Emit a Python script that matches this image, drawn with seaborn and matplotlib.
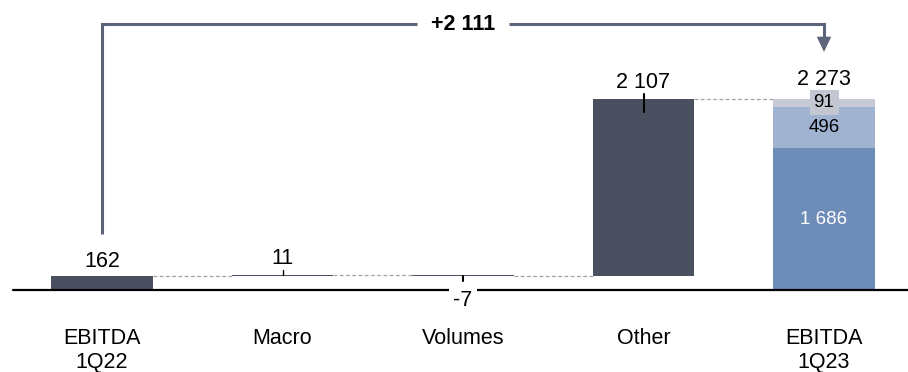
import numpy as np
import pandas as pd
import matplotlib
matplotlib.use("Agg")
import matplotlib.pyplot as plt
import seaborn as sns
from matplotlib import font_manager

# ---- data -------------------------------------------------------------
categories = ["EBITDA\n1Q22", "Macro", "Volumes", "Other", "EBITDA\n1Q23"]
start_value = 162                 # EBITDA 1Q22
step_deltas = [11, -7, 2107]      # Macro, Volumes, Other
end_parts = [1686, 496, 91]       # EBITDA 1Q23 components, bottom to top
end_total = 2273
change_text = "+2 111"

# ---- style ------------------------------------------------------------
sns.set_theme(style="white")
installed = {f.name for f in font_manager.fontManager.ttflist}
families = [f for f in ["Liberation Sans Narrow", "Liberation Sans", "DejaVu Sans"] if f in installed]
plt.rcParams["font.family"] = families
plt.rcParams["text.color"] = "black"

DARK = "#4a5060"
LINE = "#5b6478"
C_BASE = "#6e8cb8"
C_MID = "#9fb2d0"
C_TOP = "#c6cad5"
DASH = "#a3a3a3"
BAR_W = 0.56
FS = 15.5
FS_IN = 13.5

fig = plt.figure(figsize=(9.08, 3.72), dpi=100)
ax = fig.add_axes([0, 0, 1, 1])

PX = end_total / 191.0            # data units per pixel (vertical)
XPX = 1 / 180.5                   # data units per pixel (horizontal)


def fmt(v):
    return f"{v:,}".replace(",", " ")


# running totals for the waterfall
running = [start_value]
for d in step_deltas:
    running.append(running[-1] + d)

# opening total bar
opening = pd.DataFrame({"cat": [categories[0]], "value": [start_value]})
sns.barplot(data=opening, x="cat", y="value", order=categories, color=DARK,
            width=BAR_W, saturation=1, linewidth=0, ax=ax)

# closing stacked bar, drawn as overlapping cumulative layers
cum = np.cumsum(end_parts)
for level, col in zip(cum[::-1], [C_TOP, C_MID, C_BASE]):
    layer = pd.DataFrame({"cat": [categories[-1]], "value": [level]})
    sns.barplot(data=layer, x="cat", y="value", order=categories, color=col,
                width=BAR_W, saturation=1, linewidth=0, ax=ax)

# floating step bars
for i, d in enumerate(step_deltas, start=1):
    lo = min(running[i - 1], running[i])
    ax.bar(i, abs(d), bottom=lo, width=BAR_W, color=DARK, linewidth=0)

# dashed connectors between bars
for i, level in enumerate(running):
    ax.plot([i + BAR_W / 2, i + 1 - BAR_W / 2], [level, level],
            ls=(0, (3, 2)), color=DASH, lw=0.9, zorder=1)

# zero line
ax.plot([-89 * XPX, 10], [0, 0], color="black", lw=1.6, zorder=3)

# small value ticks on the step bars
ax.plot([1, 1], [running[1], running[1] + 5 * PX], color="black", lw=1.0, zorder=4)
ax.plot([2, 2], [running[2], running[2] - 5 * PX], color="black", lw=1.5, zorder=4)
ax.plot([3, 3], [running[3] + 5 * PX, running[3] - 13 * PX], color="black", lw=1.5, zorder=4)


# value labels
def label(x, y, text, dy, size=FS, color="black", **kw):
    ax.annotate(text, (x, y), xytext=(0, dy), textcoords="offset pixels",
                ha="center", va="baseline", fontsize=size, color=color, **kw)


label(0, start_value, fmt(start_value), 9)
label(1, running[1], fmt(step_deltas[0]), 11)
ax.annotate(fmt(step_deltas[1]), (2, 0), xytext=(0, -16), textcoords="offset pixels",
            ha="center", va="baseline", fontsize=FS, zorder=5,
            bbox=dict(boxstyle="square,pad=0.2", fc="white", ec="none"))
label(3, running[3], fmt(step_deltas[2]), 11)
label(4, end_total, fmt(end_total), 14)

# component labels inside the closing bar
bounds = np.concatenate([[0], cum])
mids = (bounds[:-1] + bounds[1:]) / 2
ax.text(4, mids[0], fmt(end_parts[0]), ha="center", va="center",
        fontsize=FS_IN, color="white")
ax.text(4, mids[1], fmt(end_parts[1]), ha="center", va="center",
        fontsize=FS_IN, color="black")
ax.text(4, mids[2], fmt(end_parts[2]), ha="center", va="center",
        fontsize=FS_IN, color="black", zorder=5,
        bbox=dict(boxstyle="square,pad=0.22", fc="#c3c7d1", ec="none"))

# overall change bracket
y_br = (290 - 24) * PX
gap = 0.255
ax.plot([0, 0, 2 - gap], [start_value + 42 * PX, y_br, y_br], color=LINE, lw=2.2,
        solid_joinstyle="miter", solid_capstyle="butt")
ax.plot([2 + gap, 4, 4], [y_br, y_br, (290 - 40) * PX], color=LINE, lw=2.2,
        solid_joinstyle="miter", solid_capstyle="butt")
ax.annotate("", xy=(4, (290 - 52) * PX), xytext=(4, (290 - 36) * PX),
            arrowprops=dict(arrowstyle="-|>,head_length=0.55,head_width=0.26",
                            mutation_scale=20, color=LINE, lw=0,
                            shrinkA=0, shrinkB=0))
ax.text(2, y_br, change_text, ha="center", va="center", fontsize=FS,
        fontweight="bold")

# category labels
for i, cat in enumerate(categories):
    ax.text(i, -38 * PX, cat, ha="center", va="top", fontsize=FS,
            linespacing=1.2)

ax.set_xlim(-102 * XPX, (908 - 102) * XPX)
ax.set_ylim(-82 * PX, 290 * PX)
ax.set_xlabel("")
ax.set_ylabel("")
ax.axis("off")

fig.savefig("out.png", dpi=100)
